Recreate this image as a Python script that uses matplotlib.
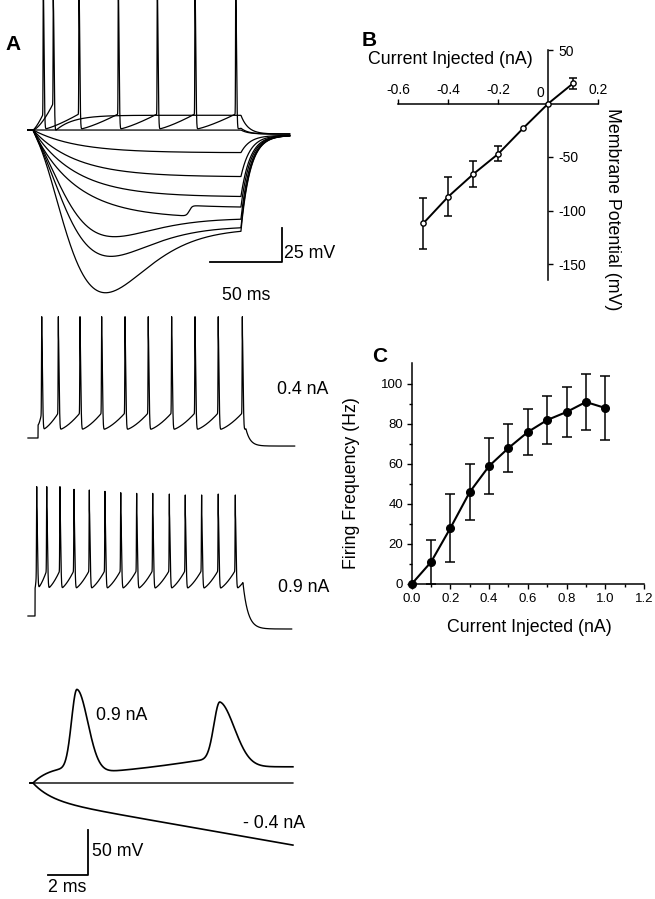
import numpy as np
import matplotlib.pyplot as plt

plt.rcParams['font.family'] = ['Liberation Sans', 'DejaVu Sans']

W, H = 655, 899

# ---- panel B: current-voltage relation ----
iv_current = [-0.5, -0.4, -0.3, -0.2, -0.1, 0.0, 0.1]
iv_potential = [-112, -87, -66, -47, -23, 0, 19]
iv_sem = [24, 18.5, 12.5, 7, 0, 0, 5]

# ---- panel C: firing frequency vs current ----
fi_current = [0.0, 0.1, 0.2, 0.3, 0.4, 0.5, 0.6, 0.7, 0.8, 0.9, 1.0]
fi_rate = [0, 11, 28, 46, 59, 68, 76, 82, 86, 91, 88]
fi_sem = [0, 11, 17, 14, 14, 12, 11.5, 12, 12.5, 14, 16]

# ---- panel A, top: responses to 145 ms current steps ----
step_ms = 145
hyp_steady = [-17, -35, -50, -66, -66, -72, -73.5]      # mV at end of step
hyp_peak = [None, None, None, None, -77, -92, -120]     # sag minimum
hyp4_jump_t, hyp4_jump = 109, 8
fire_a_times = [7.2, 32.1, 59.5, 86.7, 113, 141.4]
fire_b_time = 14.2
fire_b_plateau = 11

# ---- panel A: 0.4 nA and 0.9 nA spike trains ----
train04_times = [2.6, 14.2, 29.3, 44.4, 60.7, 76.9, 93.2, 109.5, 125.7, 142.5]
train09_times = [1.2, 8.2, 17.4, 27.2, 37.9, 48.8, 59.8, 70.9, 82.1, 93.7,
                 104.8, 116.2, 127.8, 139.7]
train09_peaks = [96.5, 96.5, 96.5, 94.5, 94, 93, 92, 91.5, 91.5, 91, 90.3,
                 90.3, 91, 90.3]

# ---- panel A, bottom: fast sweep ----
ap_times = [2.2, 9.35]
ap_peaks = [104, 90]
ap_rise = [0.27, 0.3]
ap_fall = [0.55, 0.75]


def spike_train(t, times, v_on, v_trough, v_thr, peaks, v_end, tau_end, p=1.5):
    times = np.asarray(times, float)
    peaks = np.broadcast_to(np.asarray(peaks, float), times.shape)
    isi = np.diff(times).mean()
    starts = np.r_[0.0, times]
    stops = np.r_[times, times[-1] + isi]
    lows = np.r_[v_on, np.full(len(times), v_trough)]
    v = np.zeros_like(t)
    for t0, t1, lo in zip(starts, stops, lows):
        m = (t >= t0) & (t < t1)
        v[m] = lo + (v_thr - lo) * ((t[m] - t0) / (t1 - t0)) ** p
    v_off = v_trough + (v_thr - v_trough) * ((step_ms - times[-1]) / isi) ** p
    m = t >= step_ms
    v[m] = v_end + (v_off - v_end) * np.exp(-(t[m] - step_ms) / tau_end)
    for ts, pk in zip(times, peaks):
        d = t - ts
        sig = np.where(d < 0, 0.15, 0.5)
        v += (pk - v_thr) * np.exp(-0.5 * (d / sig) ** 2)
    return v


def hyp_trace(t, vs, vmin, tau_m=30, tp=45, n=3):
    tc = np.clip(t, 0, None)
    f = 1 - np.exp(-tc / tau_m)
    d = 0 if vmin is None else vmin - vs * (1 - np.exp(-tp / tau_m))
    x = tc / tp
    v = vs * f + d * x ** n * np.exp(n * (1 - x))
    return v


def relax(t, v, v_end=-3, tau=6):
    i = np.searchsorted(t, step_ms)
    v = v.copy()
    v[i:] = v_end + (v[i - 1] - v_end) * np.exp(-(t[i:] - step_ms) / tau)
    return v


fig = plt.figure(figsize=(W / 100, H / 100), dpi=100)


def px_axes(x0, y0, x1, y1):
    return fig.add_axes([x0 / W, 1 - y1 / H, (x1 - x0) / W, (y1 - y0) / H])


def ftext(x, y, s, **kw):
    kw.setdefault('fontsize', 12.8)
    kw.setdefault('va', 'center')
    fig.text(x / W, 1 - y / H, s, **kw)


trace = dict(color='black', lw=0.9)

# ---------- A top ----------
ax1 = px_axes(0, 0, 300, 300)
ax1.set_xlim(-33 / 1.434, 267 / 1.434)
ax1.set_ylim(-170 / 1.34, 130 / 1.34)
ax1.set_axis_off()
t = np.arange(-3.5, 179, 0.02)
for i, (vs, vm) in enumerate(zip(hyp_steady, hyp_peak)):
    v = hyp_trace(t, vs, vm)
    if i == 3:
        v += hyp4_jump / (1 + np.exp(-(t - hyp4_jump_t) / 1.0))
    ax1.plot(t, relax(t, v, -4, 6.5), **trace)
ax1.plot(t, relax(t, np.zeros_like(t), -3, 5), **trace)
va = spike_train(t, fire_a_times, 0, 0.5, 12, 115, -3, 5, p=1.3)
ax1.plot(t, va, **trace)
vb = np.zeros_like(t)
m = (t >= 0) & (t < fire_b_time)
vb[m] = 20 * (t[m] / fire_b_time) ** 1.5
m = t >= fire_b_time
vb[m] = fire_b_plateau + (-2 - fire_b_plateau) * np.exp(-(t[m] - fire_b_time) / 12)
vb = relax(t, vb, -3, 5)
d = t - fire_b_time
vb += 95 * np.exp(-0.5 * (d / np.where(d < 0, 0.15, 0.5)) ** 2)
ax1.plot(t, vb, **trace)
# scale bar 50 ms / 25 mV
ax1.plot([123.4, 173.4, 173.4], [-98.3, -98.3, -73.3], color='black', lw=1.3,
         clip_on=False)

# ---------- A 0.4 nA ----------
ax2 = px_axes(0, 300, 300, 460)
ax2.set_xlim(-38 / 1.434, 262 / 1.434)
ax2.set_ylim(-22 / 1.34, 138 / 1.34)
ax2.set_axis_off()
t = np.arange(-7, 179, 0.02)
v = spike_train(t, train04_times, 9.7, 6, 18.7, 90.5, -6, 3)
ax2.plot(t, v, **trace)

# ---------- A 0.9 nA ----------
ax3 = px_axes(0, 470, 300, 640)
ax3.set_xlim(-35 / 1.434, 265 / 1.434)
ax3.set_ylim(-24 / 1.34, 146 / 1.34)
ax3.set_axis_off()
t = np.arange(-4.9, 179, 0.02)
v = spike_train(t, train09_times, 20.7, 20, 34, train09_peaks, -9.7, 3.5)
ax3.plot(t, v, **trace)

# ---------- A bottom, fast sweep ----------
ax4 = px_axes(0, 650, 330, 899)
ax4.set_xlim(-33 / 20, 297 / 20)
ax4.set_ylim(-116 / 0.9, 133 / 0.9)
ax4.set_axis_off()
t = np.arange(-0.15, 13.0, 0.005)
tc = np.clip(t, 0, None)
s1 = 1 / (1 + np.exp(-(t - ap_times[0]) / 0.3))
s2 = 1 / (1 + np.exp(-(t - ap_times[1]) / 0.3))
b_pre = 20 * (1 - np.exp(-tc / 0.9))
gap = ap_times[1] - ap_times[0]
b_mid = 11 + 18 * (np.clip(t - ap_times[0], 0, None) / gap) ** 1.5
b = b_pre * (1 - s1) + b_mid * s1 * (1 - s2) + 18 * s2
v = b.copy()
for ts, pk, sr, sf in zip(ap_times, ap_peaks, ap_rise, ap_fall):
    k = np.argmin(np.abs(t - ts))
    d = t - ts
    v += (pk - b[k]) * np.exp(-0.5 * (d / np.where(d < 0, sr, sf)) ** 2)
ax4.plot(t, v, color='black', lw=1.2)
ax4.plot(t, np.zeros_like(t), color='black', lw=1.0)
ax4.plot(t, -(18.3 * (1 - np.exp(-tc / 0.9)) + 3.9 * tc), color='black', lw=1.2)
ax4.plot([0.765, 2.765, 2.765], [-102.2, -102.2, -52.2], color='black', lw=1.3,
         clip_on=False)

# ---------- B ----------
axB = px_axes(380, 20, 640, 300)
axB.set_xlim(-168.3 / 250, 91.7 / 250)
axB.set_ylim(-196.5 / 1.07, 83.5 / 1.07)
axB.patch.set_visible(False)
axB.spines['left'].set_visible(False)
axB.spines['bottom'].set_visible(False)
axB.spines['top'].set_position(('data', 0))
axB.spines['right'].set_position(('data', 0))
axB.spines['top'].set_bounds(-0.6, 0.2)
axB.spines['right'].set_bounds(-165, 50)
for s in ('top', 'right'):
    axB.spines[s].set_linewidth(1.1)
axB.xaxis.set_ticks_position('top')
axB.yaxis.set_ticks_position('right')
axB.set_xticks([-0.6, -0.4, -0.2, 0.2])
axB.set_xticklabels(['-0.6', '-0.4', '-0.2', '0.2'])
axB.set_yticks([50, -50, -100, -150])
axB.set_yticklabels(['50', '-50', '-100', '-150'])
axB.tick_params(axis='x', direction='out', length=3.5, width=1, labelsize=10, pad=1.5)
axB.tick_params(axis='y', direction='out', length=3.5, width=1, labelsize=10, pad=3.5)
eb = [(c, p, e) for c, p, e in zip(iv_current, iv_potential, iv_sem) if e > 0]
axB.errorbar([x[0] for x in eb], [x[1] for x in eb], yerr=[x[2] for x in eb],
             fmt='none', ecolor='black', elinewidth=1.1, capsize=3, capthick=1.1)
axB.plot(iv_current, iv_potential, '-o', color='black', lw=1.4, ms=3.8,
         mfc='white', mew=1, zorder=3)
axB.text(-0.015, 3, '0', fontsize=10, ha='right', va='bottom')

ftext(450, 60, 'Current Injected (nA)', ha='center')
ftext(613, 209, 'Membrane Potential (mV)', ha='center', rotation=-90)

# ---------- C ----------
axC = px_axes(411.7, 363, 644, 584)
axC.set_xlim(0, 1.2)
axC.set_ylim(0, 110.5)
axC.patch.set_visible(False)
axC.spines['top'].set_visible(False)
axC.spines['right'].set_visible(False)
for s in ('left', 'bottom'):
    axC.spines[s].set_linewidth(1.1)
axC.set_xticks(np.arange(0, 1.21, 0.2))
axC.set_xticklabels(['0.0', '0.2', '0.4', '0.6', '0.8', '1.0', '1.2'])
axC.set_xticks(np.arange(0.1, 1.2, 0.2), minor=True)
axC.set_yticks(range(0, 101, 20))
axC.set_yticks(range(10, 110, 20), minor=True)
axC.tick_params(which='major', direction='out', length=3.8, width=1, labelsize=9.5, pad=2.5)
axC.tick_params(which='minor', direction='out', length=2.2, width=1)
eb = [(c, r, e) for c, r, e in zip(fi_current, fi_rate, fi_sem) if e > 0]
axC.errorbar([x[0] for x in eb], [x[1] for x in eb], yerr=[x[2] for x in eb],
             fmt='none', ecolor='black', elinewidth=1.1, capsize=3.5, capthick=1.1,
             clip_on=False)
axC.plot(fi_current, fi_rate, '-o', color='black', lw=1.5, ms=5.5, clip_on=False,
         zorder=3)

ftext(529, 628, 'Current Injected (nA)', ha='center')
ftext(352, 483, 'Firing Frequency (Hz)', ha='center', rotation=90)

# ---------- labels ----------
ftext(5, 45, 'A', fontsize=15, fontweight='bold')
ftext(362, 40, 'B', fontsize=15, fontweight='bold')
ftext(372, 357, 'C', fontsize=15, fontweight='bold')
ftext(284, 253, '25 mV')
ftext(222, 296, '50 ms')
ftext(277, 390, '0.4 nA')
ftext(278, 588, '0.9 nA')
ftext(96, 715, '0.9 nA')
ftext(243, 823, '- 0.4 nA')
ftext(92, 852, '50 mV')
ftext(48, 888, '2 ms')

fig.savefig('out.png', dpi=100)
